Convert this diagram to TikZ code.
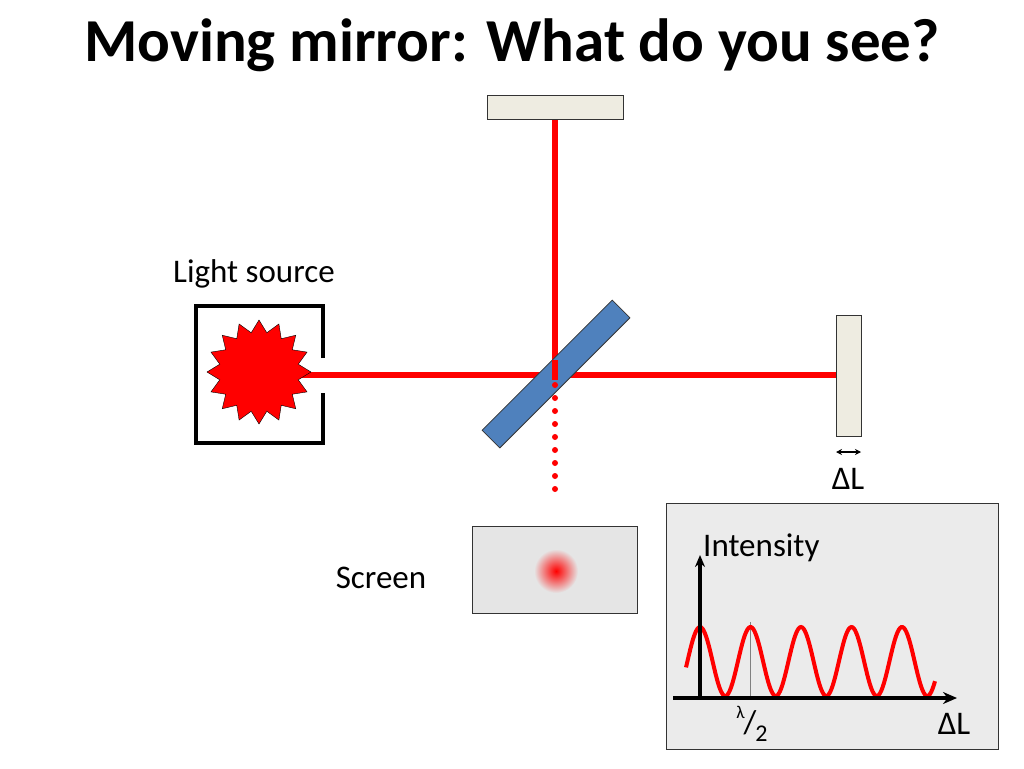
\documentclass[tikz,border=0pt]{standalone}
\usepackage{fontspec}
\setmainfont{Carlito}
\usetikzlibrary{shapes.geometric,arrows.meta}
\definecolor{beam}{RGB}{255,0,0}
\definecolor{mir}{RGB}{238,236,225}
\definecolor{bsfill}{RGB}{79,129,189}
\begin{document}
\begin{tikzpicture}[x=1pt,y=-1pt,
  mirror/.style={draw=black!80,fill=mir,line width=0.8pt},
  ray/.style={draw=beam,line width=5.5pt},
  lbl/.style={font=\fontsize{33}{38}\selectfont,inner sep=0pt}]
\useasboundingbox (0,0) rectangle (1024,768);
\node[font=\fontsize{61}{70}\selectfont\bfseries] (title) at (512,45) {Moving mirror: What do you see?};
% beams
\draw[ray] (555,119) -- (555,375);
\draw[ray] (300,375) -- (836,375);
% mirrors
\node[mirror,minimum width=136pt,minimum height=24pt,inner sep=0pt] (m1) at (555,107) {};
\node[mirror,minimum width=25pt,minimum height=121pt,inner sep=0pt] (m2) at (848.5,375.5) {};
% beam splitter
\node[draw=black!80,fill=bsfill,minimum width=184pt,minimum height=25pt,inner sep=0pt,rotate=45,line width=0.8pt] (bs) at (556,374) {};
\draw[ray] (555,360) -- (555,380);
\draw[beam,line width=6pt,line cap=round,dash pattern=on 0pt off 13pt] (555,385) -- (555,490);
% light source
\draw[line width=3.5pt] (323,358) -- (323,306) -- (196,306) -- (196,443) -- (323,443) -- (323,393);
\node[star,star points=16,star point ratio=1.3,draw=black,fill=beam,minimum size=104pt,inner sep=0pt] (src) at (259,372) {};
\node[lbl] (ls) at (254,274) {Light source};
% delta L
\coordinate (da) at (836,452); \coordinate (db) at (861,452);
\draw[{Stealth[length=6pt,width=6pt]}-{Stealth[length=6pt,width=6pt]},line width=1.5pt] (da) -- (db);
\node[lbl] (dl) at (848,479) {ΔL};
% screen
\node[draw=black!80,fill=black!10,minimum width=165pt,minimum height=87pt,inner sep=0pt] (scr) at (554.5,569.5) {};
\shade[inner color=beam,outer color=black!10] (556,571) circle (22pt);
\node[lbl] (sl) at (381,578) {Screen};
% plot
\node[draw=black!80,fill=black!8,minimum width=332pt,minimum height=246pt,inner sep=0pt] (pan) at (832,626) {};
\draw[black!50,line width=0.8pt] (750,698) -- (750,622);
\draw[beam,line width=4pt,domain=-14:235,samples=200,smooth] plot ({700+\x},{661.5-34.5*cos(7.1287*\x)});
\coordinate (o) at (700,698);
\draw[-{Stealth[length=12pt,width=10pt]},line width=3.5pt] (700,698) -- (700,555);
\draw[-{Stealth[length=14pt,width=12pt]},line width=3.5pt] (673,698) -- (957,698);
\node[lbl,anchor=west] (it) at (703,548) {Intensity};
\node[lbl] (lam) at (752,724) {\raisebox{0.45em}{\fontsize{18}{20}\selectfont λ}\kern-1pt/\kern-1pt\raisebox{-0.25em}{\fontsize{24}{26}\selectfont 2}};
\node[lbl] (dl2) at (954,724) {ΔL};
\end{tikzpicture}
\end{document}
